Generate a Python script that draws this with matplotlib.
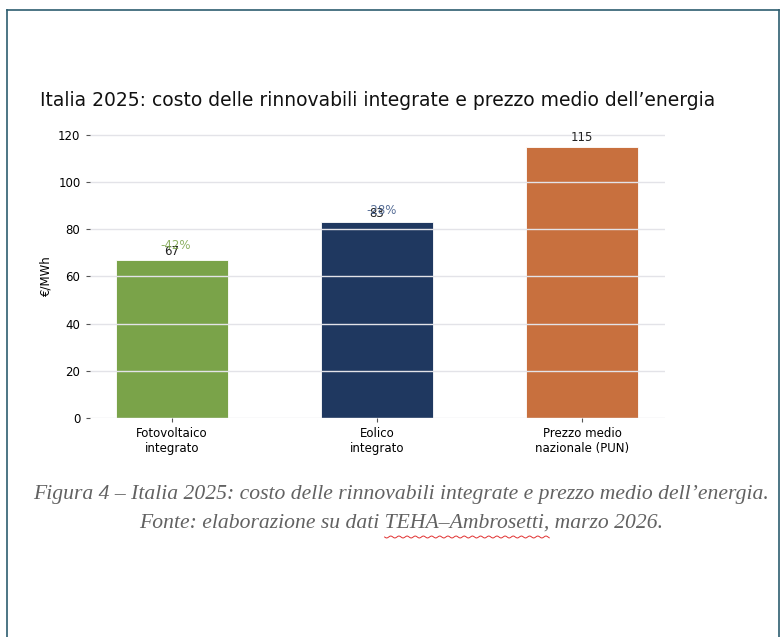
import matplotlib.pyplot as plt
import numpy as np

categories = ['Fotovoltaico\nintegrato', 'Eolico\nintegrato', 'Prezzo medio\nnazionale (PUN)']
values = [67, 83, 115]
deltas = ['-42%', '-28%', None]
bar_colors = ['#7AA349', '#1F3860', '#C8703E']
delta_colors = ['#7AA349', '#3A5585', None]

fig = plt.figure(figsize=(7.81, 6.37), dpi=100)
ax = fig.add_axes([89.5 / 781, 1 - 418 / 637, 575 / 781, 285 / 637])

x = np.arange(len(categories))
bars = ax.bar(x, values, width=0.55, color=bar_colors, edgecolor='white', linewidth=0.6)

# le percentuali stanno quasi sopra i numeri, come nell'originale
delta_offset = [6.2, 5.0, 0]
for i, b in enumerate(bars):
    cx = b.get_x() + b.get_width() / 2
    ax.text(cx, b.get_height() + 3.7, str(values[i]),
            ha='center', va='center', fontsize=8.5, color='#222222')
    if deltas[i]:
        ax.text(cx + 0.02, b.get_height() + delta_offset[i], deltas[i],
                ha='center', va='center', fontsize=8.5, color=delta_colors[i], alpha=0.85)

ax.set_xticks(x)
ax.set_xticklabels(categories, fontsize=8.5)
ax.set_yticks(range(0, 121, 20))
ax.tick_params(axis='y', labelsize=8.5, length=3, color='#555555')
ax.tick_params(axis='x', length=3, color='#555555')
ax.set_ylabel('€/MWh', fontsize=8.5)
ax.grid(axis='y', color='#e3e3e8', linewidth=1.0)
ax.set_axisbelow(False)
for s in ax.spines.values():
    s.set_visible(False)

fig.text(40 / 781, 1 - 100 / 637, 'Italia 2025: costo delle rinnovabili integrate e prezzo medio dell’energia',
         fontsize=13.5, ha='left', va='center', color='#111111')

cap_font = dict(family='Liberation Serif', style='italic', fontsize=15.6, color='#626262', ha='center', va='center')
line1 = 'Figura 4 – Italia 2025: costo delle rinnovabili integrate e prezzo medio dell’energia.'
line2 = 'Fonte: elaborazione su dati TEHA–Ambrosetti, marzo 2026.'
fig.text(401 / 781, 1 - 494 / 637, line1, **cap_font)
t2 = fig.text(401 / 781, 1 - 523 / 637, line2, **cap_font)

# sottolineatura ondulata del correttore sotto "TEHA–Ambrosetti,"
r = fig.canvas.get_renderer()
full_w = t2.get_window_extent(r).width
tmp = fig.text(0, 0, 'Fonte: elaborazione su dati ', **cap_font)
pre_w = tmp.get_window_extent(r).width
tmp.set_text('TEHA–Ambrosetti,')
word_w = tmp.get_window_extent(r).width
tmp.remove()
x0 = 401 - full_w / 2 + pre_w
wx = np.linspace(x0, x0 + word_w, 160)
wy = 537 + 1.0 * np.sin((wx - x0) / 1.3)
fig.add_artist(plt.Line2D(wx / 781, 1 - wy / 637, color='#e03030', linewidth=0.7))

# cornice del documento
frame = '#2E5E70'
fig.add_artist(plt.Line2D([7.5 / 781, 779 / 781], [1 - 10 / 637, 1 - 10 / 637], color=frame, linewidth=1.2))
fig.add_artist(plt.Line2D([7.5 / 781, 7.5 / 781], [1 - 10 / 637, 0], color=frame, linewidth=1.2))
fig.add_artist(plt.Line2D([779 / 781, 779 / 781], [1 - 10 / 637, 0], color=frame, linewidth=1.2))

fig.savefig('out.png', dpi=100)
